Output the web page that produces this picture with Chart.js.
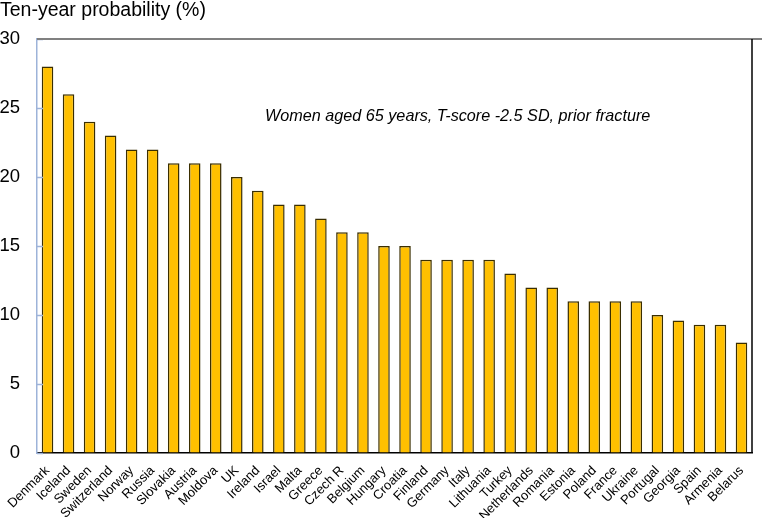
<!DOCTYPE html>
<html>
<head>
<meta charset="utf-8">
<script src="https://cdn.jsdelivr.net/npm/chart.js@4/dist/chart.umd.min.js"></script>
<style>
  html, body { margin: 0; padding: 0; background: #fff; }
  #wrap { width: 762px; height: 518px; }
</style>
</head>
<body>
<div id="wrap"><canvas id="myChart" width="762" height="518"></canvas></div>
<script>
const countries = ["Denmark", "Iceland", "Sweden", "Switzerland", "Norway", "Russia", "Slovakia", "Austria", "Moldova", "UK",
  "Ireland", "Israel", "Malta", "Greece", "Czech R", "Belgium", "Hungary", "Croatia", "Finland", "Germany",
  "Italy", "Lithuania", "Turkey", "Netherlands", "Romania", "Estonia", "Poland", "France", "Ukraine", "Portugal",
  "Georgia", "Spain", "Armenia", "Belarus"];
const probability = [28, 26, 24, 23, 22, 22, 21, 21, 21, 20,
  19, 18, 18, 17, 16, 16, 15, 15, 14, 14,
  14, 14, 13, 12, 12, 11, 11, 11, 11, 10,
  9.6, 9.3, 9.3, 8];
const yTicks = [0, 5, 10, 15, 20, 25, 30];
const yTitle = "Ten-year probability (%)";
const note = "Women aged 65 years, T-score -2.5 SD, prior fracture";

const FONT = "'Liberation Sans', Arial, sans-serif";

// frame lines, inward y ticks, free texts
const extras = {
  id: "extras",
  afterDraw(chart) {
    const c = chart.ctx;
    const a = chart.chartArea;
    const y = chart.scales.y;
    c.save();
    c.strokeStyle = "#9db3d9";
    c.lineWidth = 1.5;
    yTicks.forEach(v => {
      const py = Math.round(y.getPixelForValue(v)) + 0.5;
      c.beginPath();
      c.moveTo(a.left, py);
      c.lineTo(a.left + 6, py);
      c.stroke();
    });
    c.strokeStyle = "#808080";
    c.lineWidth = 2;
    c.beginPath();
    c.moveTo(a.left, a.top);
    c.lineTo(762, a.top);
    c.stroke();
    c.strokeStyle = "#000";
    c.lineWidth = 1.5;
    c.beginPath();
    c.moveTo(a.right, a.top);
    c.lineTo(a.right, a.bottom);
    c.stroke();
    c.fillStyle = "#000";
    c.font = "19.5px " + FONT;
    c.textBaseline = "top";
    c.textAlign = "left";
    c.fillText(yTitle, 0, 1);
    c.font = "italic 16.2px " + FONT;
    c.textBaseline = "middle";
    c.fillText(note, 265, 116);
    c.restore();
  }
};

const ctx = document.getElementById("myChart");

new Chart(ctx, {
  type: "bar",
  data: {
    labels: countries,
    datasets: [
      {
        data: probability,
        backgroundColor: "#FFC000",
        borderColor: "#3a2e00",
        borderWidth: 1.5,
        borderSkipped: "bottom",
        barPercentage: 0.55,
        categoryPercentage: 1,
      },
    ],
  },
  options: {
    responsive: false,
    animation: false,
    layout: { padding: { top: 39, right: 10, left: 0, bottom: 0 } },
    plugins: {
      legend: { display: false },
      tooltip: { enabled: false },
    },
    scales: {
      x: {
        grid: { display: false },
        border: { color: "#000", width: 1.5 },
        ticks: {
          color: "#000",
          autoSkip: false,
          maxRotation: 45,
          minRotation: 45,
          padding: 2,
          font: { family: FONT, size: 13 },
        },
        afterFit(scale) { scale.height = 65; },
      },
      y: {
        min: 0,
        max: 30,
        afterBuildTicks(scale) { scale.ticks = yTicks.map(v => ({ value: v })); },
        grid: { drawOnChartArea: false, drawTicks: false },
        border: { color: "#9db3d9", width: 1.5 },
        ticks: {
          color: "#000",
          padding: 17,
          font: { family: FONT, size: 18.5 },
        },
        afterFit(scale) { scale.width = 37; },
      },
    },
  },
  plugins: [extras],
});
</script>
</body>
</html>
